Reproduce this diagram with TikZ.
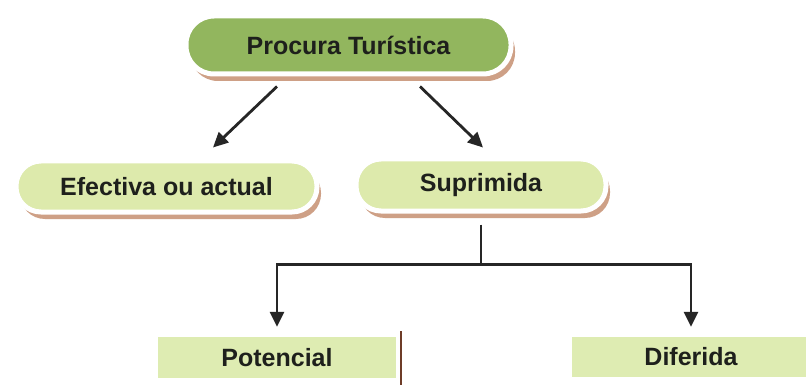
\documentclass[tikz,border=0pt]{standalone}
\usepackage{fontspec}
\setmainfont{Liberation Sans}
\usetikzlibrary{shadows,arrows.meta}
\definecolor{pillDark}{RGB}{146,182,94}
\definecolor{pillLight}{RGB}{221,234,172}
\definecolor{boxLight}{RGB}{222,236,178}
\definecolor{rimShade}{RGB}{206,160,134}
\definecolor{inkText}{RGB}{30,32,28}
\definecolor{edgeMark}{RGB}{110,60,40}
\tikzset{
  pill/.style={rounded corners=#1, draw=white, line width=5pt,
    text=inkText, font=\fontsize{25}{29}\selectfont\bfseries,
    inner sep=0pt, align=center,
    drop shadow={shadow xshift=4pt, shadow yshift=-7pt, fill=rimShade, opacity=1}},
  flatbox/.style={fill=boxLight, draw=none, text=inkText,
    font=\fontsize{25}{29}\selectfont\bfseries, inner sep=0pt},
  arr/.style={draw=black!85, line width=2.8pt,
    -{Triangle[length=15pt,width=14pt]}},
  link/.style={draw=black!85, line width=2.8pt}
}
\begin{document}
\begin{tikzpicture}[x=1pt,y=-1pt]
\useasboundingbox (0,0) rectangle (806,385);
\fill[white] (0,0) rectangle (806,385);

% nodes
\node[pill=28pt, fill=pillDark, minimum width=325pt, minimum height=58pt]
  (top) at (348.5,45) {Procura Turística};
\node[pill=25pt, fill=pillLight, minimum width=301pt, minimum height=51pt]
  (eff) at (166.5,186.5) {Efectiva ou actual};
\node[pill=25pt, fill=pillLight, minimum width=250pt, minimum height=52pt]
  (sup) at (481,185) {Suprimida};
\node[flatbox, minimum width=238pt, minimum height=41pt]
  (pot) at (277,357.5) {Potencial};
\node[flatbox, minimum width=238pt, minimum height=40pt]
  (dif) at (691,357) {Diferida};

% connectors
\draw[arr] ([xshift=-71.5pt,yshift=-10pt]top.south) -- ([xshift=46.5pt,yshift=11pt]eff.north);
\draw[arr] ([xshift=71.5pt,yshift=-10pt]top.south) -- ([xshift=2pt,yshift=9pt]sup.north);
\draw[link, shorten <=11pt] (sup.south) -- ++(0,51) coordinate (fork);
\draw[arr, shorten >=10pt] (fork) -| (pot.north);
\draw[arr, shorten >=10pt] (fork) -| (dif.north);

% thin vertical mark at the lower edge
\coordinate (markTop) at (401,331);
\coordinate (markBot) at (401,385);
\draw[edgeMark, line width=1.2pt] (markTop) -- (markBot);
\end{tikzpicture}
\end{document}
